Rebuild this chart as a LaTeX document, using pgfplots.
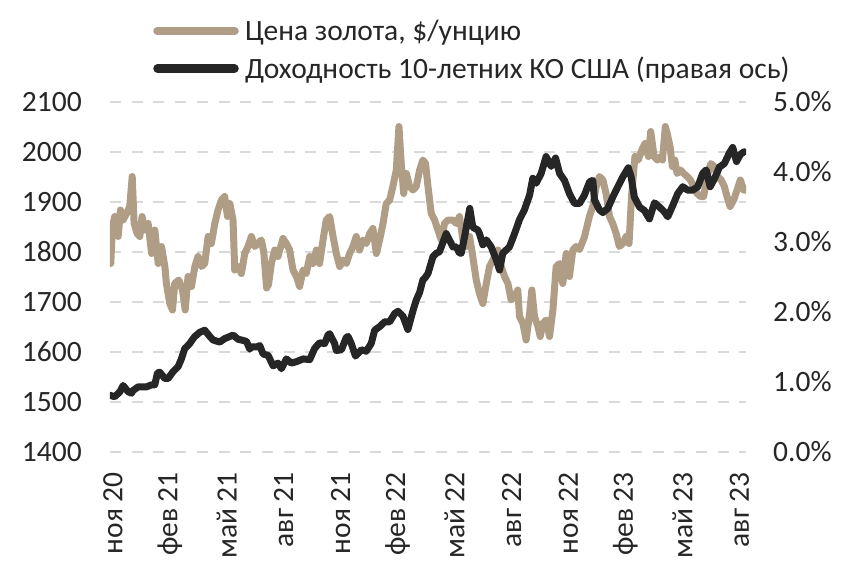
\documentclass[border=0pt]{standalone}
\usepackage{fontspec}
\setmainfont{Carlito}
\usepackage{pgfplots}
\pgfplotsset{compat=1.18}
\definecolor{goldc}{RGB}{176,157,134}
\definecolor{ylc}{RGB}{38,38,38}
\definecolor{gridc}{RGB}{217,217,217}
\newcommand{\F}{\fontsize{29.5bp}{35bp}\selectfont}
\begin{document}
\begin{tikzpicture}
\path[use as bounding box] (-110bp,-131bp) rectangle (749bp,452bp);
\begin{axis}[
  at={(0,0)}, anchor=south west,
  scale only axis, width=636bp, height=350bp,
  xmin=-0.15, xmax=33.35, ymin=1400, ymax=2100,
  axis line style={draw=none}, major tick length=0pt,
  xtick={0,3,...,33},
  xticklabels={ноя 20,фев 21,май 21,авг 21,ноя 21,фев 22,май 22,авг 22,ноя 22,фев 23,май 23,авг 23},
  xticklabel style={rotate=90, anchor=east, inner sep=0pt, font=\F, text=ylc},
  xticklabel shift=20bp,
  ytick={1400,1500,...,2100},
  yticklabel style={anchor=east, inner sep=0pt, font=\F, text=ylc},
  yticklabel shift=28bp,
  /pgf/number format/assume math mode=true,
  /pgf/number format/set thousands separator={},
  ymajorgrids, grid style={gridc, line width=2.5bp, dash pattern=on 11bp off 10.7bp},
  legend style={at={(axis description cs:0.0629,1.2343)}, anchor=north west, draw=none, fill=none,
    inner sep=0pt, outer sep=0pt, font=\F, text=ylc, row sep=15bp, nodes={inner sep=0pt}},
  legend cell align=left,
  legend image code/.code={\draw[#1, line width=8.5bp, line cap=round] (4bp,0bp) -- (81bp,0bp); \path (0bp,0bp) (88bp,0bp);},
]
\addplot[goldc, line width=7bp, line join=round, line cap=round] coordinates {
(-0.11,1777) (-0.02,1851) (0.10,1871) (0.28,1831) (0.40,1884) (0.54,1864) (0.72,1877) (0.89,1891)
(1.02,1951) (1.12,1857) (1.28,1837) (1.42,1831) (1.54,1871) (1.68,1844) (1.86,1857) (2.04,1797)
(2.21,1844) (2.39,1777) (2.56,1811) (2.74,1771) (2.82,1737) (3.00,1697) (3.14,1684) (3.26,1737)
(3.47,1744) (3.67,1724) (3.81,1684) (3.96,1751) (4.14,1731) (4.32,1771) (4.49,1791) (4.67,1771)
(4.84,1777) (5.02,1831) (5.19,1817) (5.37,1857) (5.54,1884) (5.72,1904) (5.89,1911) (6.04,1871)
(6.16,1897) (6.33,1864) (6.42,1764) (6.60,1771) (6.77,1757) (6.95,1797) (7.12,1811) (7.30,1831)
(7.47,1811) (7.65,1817) (7.82,1824) (7.95,1800) (8.10,1728) (8.20,1735) (8.35,1777) (8.53,1804)
(8.70,1791) (8.96,1827) (9.14,1817) (9.31,1804) (9.49,1764) (9.67,1751) (9.84,1731) (10.02,1764)
(10.19,1757) (10.37,1791) (10.54,1777) (10.72,1804) (10.89,1777) (11.07,1824) (11.24,1864) (11.42,1871)
(11.60,1831) (11.77,1797) (11.95,1771) (12.12,1784) (12.30,1777) (12.47,1797) (12.65,1811) (12.82,1831)
(13.00,1804) (13.17,1824) (13.35,1817) (13.53,1837) (13.70,1847) (13.88,1797) (14.05,1824) (14.23,1857)
(14.40,1897) (14.58,1904) (14.75,1931) (14.93,1964) (15.07,2051) (15.19,1977) (15.32,1917) (15.46,1957)
(15.63,1931) (15.81,1924) (15.98,1931) (16.16,1964) (16.33,1984) (16.47,1977) (16.60,1931) (16.77,1877)
(16.95,1864) (17.12,1844) (17.30,1824) (17.47,1857) (17.65,1864) (17.91,1864) (18.09,1857) (18.26,1871)
(18.44,1824) (18.61,1811) (18.79,1831) (18.96,1791) (19.14,1744) (19.31,1717) (19.49,1697) (19.67,1737)
(19.84,1771) (20.02,1784) (20.28,1804) (20.46,1771) (20.63,1751) (20.81,1737) (20.98,1704) (21.16,1711)
(21.33,1724) (21.42,1671) (21.60,1657) (21.77,1624) (21.95,1677) (22.07,1724) (22.21,1671) (22.39,1651)
(22.51,1631) (22.65,1657) (22.82,1664) (23.00,1631) (23.18,1684) (23.35,1771) (23.53,1777) (23.70,1737)
(23.88,1797) (24.05,1751) (24.23,1804) (24.40,1811) (24.58,1805) (24.84,1830) (25.10,1871) (25.28,1891)
(25.46,1931) (25.63,1951) (25.81,1944) (25.98,1917) (26.16,1871) (26.33,1857) (26.51,1837) (26.68,1811)
(26.86,1817) (27.04,1831) (27.19,1817) (27.32,1911) (27.50,1991) (27.68,1984) (27.86,2004) (28.03,2017)
(28.21,1991) (28.33,2041) (28.51,1991) (28.68,1984) (28.86,1991) (28.95,1984) (29.10,2051) (29.20,2037)
(29.35,2011) (29.47,1971) (29.60,1984) (29.72,1957) (29.90,1964) (30.07,1957) (30.25,1951) (30.42,1944)
(30.60,1931) (30.77,1917) (30.95,1911) (31.12,1911) (31.30,1951) (31.50,1977) (31.68,1971) (31.86,1951)
(32.04,1944) (32.21,1931) (32.35,1911) (32.51,1891) (32.70,1904) (32.88,1924) (33.05,1944) (33.23,1924)
(33.35,1924)
};
\addlegendentry{Цена золота, \$/унцию}
\addlegendimage{ylc, line width=7bp}
\addlegendentry{Доходность 10-летних КО США (правая ось)}
\end{axis}
\begin{axis}[
  at={(0,0)}, anchor=south west,
  scale only axis, width=636bp, height=350bp,
  xmin=-0.15, xmax=33.35, ymin=0, ymax=5,
  hide x axis, axis y line*=right,
  axis line style={draw=none}, major tick length=0pt,
  ytick={0,1,2,3,4,5},
  yticklabels={0.0\%,1.0\%,2.0\%,3.0\%,4.0\%,5.0\%},
  yticklabel style={anchor=west, inner sep=0pt, font=\F, text=ylc},
  yticklabel shift=27bp,
]
\addplot[ylc, line width=7bp, line join=round, line cap=round] coordinates {
(-0.16,0.81) (0.10,0.79) (0.37,0.86) (0.54,0.95) (0.81,0.86) (0.98,0.84) (1.07,0.88) (1.33,0.93)
(1.51,0.93) (1.77,0.93) (2.04,0.96) (2.21,0.96) (2.35,1.13) (2.47,1.14) (2.74,1.05) (2.91,1.05)
(3.18,1.15) (3.44,1.22) (3.61,1.33) (3.79,1.48) (3.88,1.50) (4.05,1.55) (4.23,1.62) (4.32,1.65)
(4.58,1.71) (4.84,1.74) (4.93,1.71) (5.11,1.65) (5.28,1.60) (5.63,1.57) (5.89,1.62) (6.07,1.64)
(6.33,1.67) (6.60,1.61) (6.77,1.60) (7.04,1.58) (7.21,1.47) (7.30,1.50) (7.56,1.50) (7.74,1.52)
(7.91,1.40) (8.18,1.38) (8.44,1.23) (8.70,1.27) (8.88,1.19) (9.14,1.33) (9.40,1.27) (9.67,1.29)
(10.02,1.33) (10.37,1.32) (10.63,1.48) (10.89,1.56) (11.16,1.55) (11.33,1.67) (11.42,1.69) (11.68,1.55)
(11.77,1.45) (12.04,1.46) (12.30,1.64) (12.39,1.65) (12.56,1.55) (12.78,1.37) (13.09,1.46) (13.35,1.44)
(13.61,1.55) (13.79,1.74) (14.05,1.79) (14.32,1.86) (14.58,1.86) (14.85,1.98) (15.02,2.01) (15.28,1.94)
(15.54,1.75) (15.81,2.02) (15.98,2.17) (16.16,2.28) (16.33,2.46) (16.42,2.48) (16.60,2.55) (16.86,2.79)
(17.04,2.84) (17.20,2.86) (17.30,2.93) (17.56,3.12) (17.82,2.98) (17.91,2.93) (18.09,2.93) (18.26,2.84)
(18.35,2.84) (18.53,3.08) (18.80,3.48) (18.96,3.21) (19.23,3.17) (19.31,3.12) (19.49,2.96) (19.67,3.03)
(19.93,2.93) (20.19,2.75) (20.37,2.60) (20.54,2.84) (20.89,2.93) (21.16,3.12) (21.42,3.32) (21.68,3.46)
(21.95,3.67) (22.12,3.91) (22.30,3.84) (22.56,3.98) (22.82,4.22) (23.09,4.08) (23.32,4.20) (23.53,3.98)
(23.79,3.88) (24.05,3.69) (24.32,3.55) (24.58,3.55) (24.84,3.67) (25.11,3.86) (25.28,3.88) (25.37,3.60)
(25.63,3.46) (25.81,3.42) (26.07,3.48) (26.33,3.64) (26.60,3.79) (26.86,3.93) (27.15,4.06) (27.30,3.93)
(27.47,3.64) (27.74,3.50) (28.00,3.45) (28.26,3.33) (28.53,3.56) (28.79,3.50) (29.05,3.43) (29.23,3.36)
(29.49,3.52) (29.75,3.69) (30.02,3.79) (30.28,3.74) (30.54,3.74) (30.81,3.79) (31.07,3.98) (31.25,4.03)
(31.46,3.79) (31.68,3.90) (31.95,4.07) (32.21,4.12) (32.47,4.27) (32.65,4.35) (32.85,4.15) (33.05,4.25)
(33.25,4.29)
};
\end{axis}
\end{tikzpicture}
\end{document}
